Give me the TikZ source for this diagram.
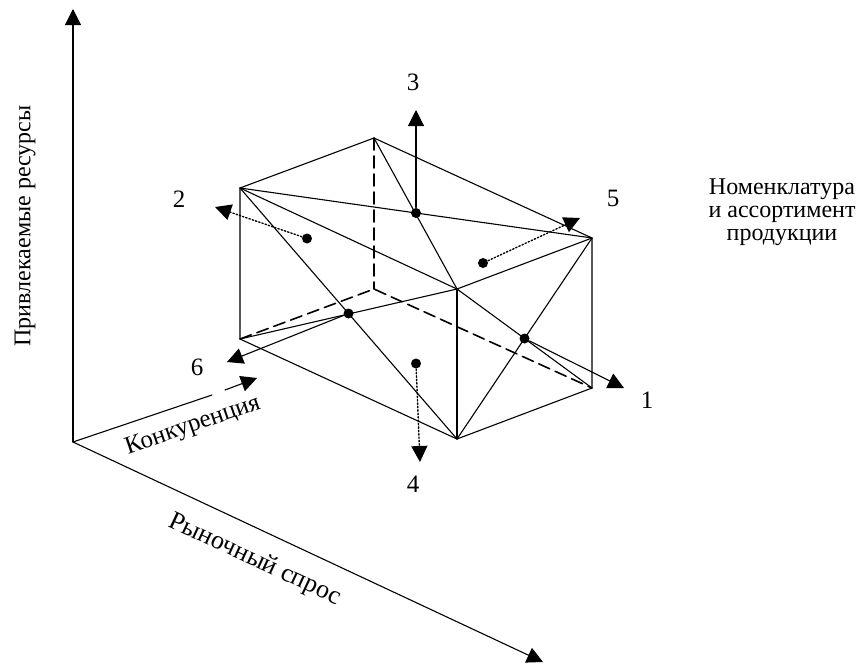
\documentclass[tikz,border=0pt]{standalone}
\usepackage{fontspec}
\setmainfont{Liberation Serif}
\usetikzlibrary{arrows.meta,calc}

\tikzset{
  dot/.style={circle, fill, inner sep=0pt, minimum size=10pt},
  tip/.style={-{Triangle[length=16pt,width=16pt]}},
  hidden/.style={dash pattern=on 12pt off 6pt, line width=1.6pt},
  num/.style={font=\fontsize{25}{27}\selectfont},
  axislabel/.style={font=\fontsize{24}{23}\selectfont}
}

\begin{document}
\begin{tikzpicture}[x=1pt, y=-1pt, line join=round, line cap=round, line width=1.1pt]
\useasboundingbox (0,0) rectangle (859,664);

% axes
\coordinate (O) at (73,442);
\coordinate (yend) at (73,9);
\coordinate (xend) at (543,662);
\coordinate (zmid) at (212,395);
\coordinate (zstart) at (225,390);
\coordinate (zend) at (257,378);
\draw[tip] (O) -- (yend);
\draw[tip] (O) -- (xend);
\draw (O) -- (zmid);
\draw[tip] (zstart) -- (zend);

% box corners
\coordinate (A) at (240,188);
\coordinate (B) at (374,138);
\coordinate (C) at (592,238);
\coordinate (D) at (457,289);
\coordinate (E) at (240,339);
\coordinate (F) at (374,289);
\coordinate (G) at (592,388);
\coordinate (H) at (457,439);

% visible edges
\draw (A) -- (B) -- (C) -- (D) -- cycle;
\draw (A) -- (E) -- (H) -- (G) -- (C);
\draw (D) -- (H);
% hidden edges
\draw[hidden] (B) -- (F);
\draw[hidden] (E) -- (F) -- (G);

% face diagonals
\draw (A) -- (C);
\draw (B) -- (D);
\draw (A) -- (H);
\draw (E) -- (D);
\draw (D) -- (G);
\draw (C) -- (H);

% face centres
\node[dot] (p1) at ($(D)!.5!(G)$) {};
\node[dot] (p2) at ($(A)!.5!(F)$) {};
\node[dot] (p3) at ($(A)!.5!(C)$) {};
\node[dot] (p4) at ($(E)!.5!(G)$) {};
\node[dot] (p5) at ($(B)!.5!(G)$) {};
\node[dot] (p6) at ($(A)!.5!(H)$) {};

% directions
\coordinate (t1) at (624,388);
\coordinate (t2) at (215,207);
\coordinate (t3) at (416,110);
\coordinate (t4) at (420,462);
\coordinate (t5) at (580,218);
\coordinate (t6) at (227,362);
\draw[tip] (p1) -- (t1);
\draw[tip, dotted, line width=1.4pt] (p2) -- (t2);
\draw[tip] (p3) -- (t3);
\draw[tip, dotted, line width=1.4pt] (p4) -- (t4);
\draw[tip, dotted, line width=1.4pt] (p5) -- (t5);
\draw[tip] (p6) -- (t6);

% numbers
\node[num] (n1) at (647,400) {1};
\node[num] (n2) at (179,199) {2};
\node[num] (n3) at (413,82) {3};
\node[num] (n4) at (413,484) {4};
\node[num] (n5) at (613,198) {5};
\node[num] (n6) at (197,367) {6};

% axis names
\node[axislabel, rotate=90] (res) at (25,226) {Привлекаемые ресурсы};
\node[axislabel, font=\fontsize{25}{27}\selectfont, rotate=19] (konk) at (193,426) {Конкуренция};
\node[axislabel, font=\fontsize{26}{28}\selectfont, rotate=-25] (spros) at (255,560) {Рыночный спрос};
\node[axislabel, align=center] (nom) at (782,212) {Номенклатура\\и ассортимент\\продукции};
\end{tikzpicture}
\end{document}
